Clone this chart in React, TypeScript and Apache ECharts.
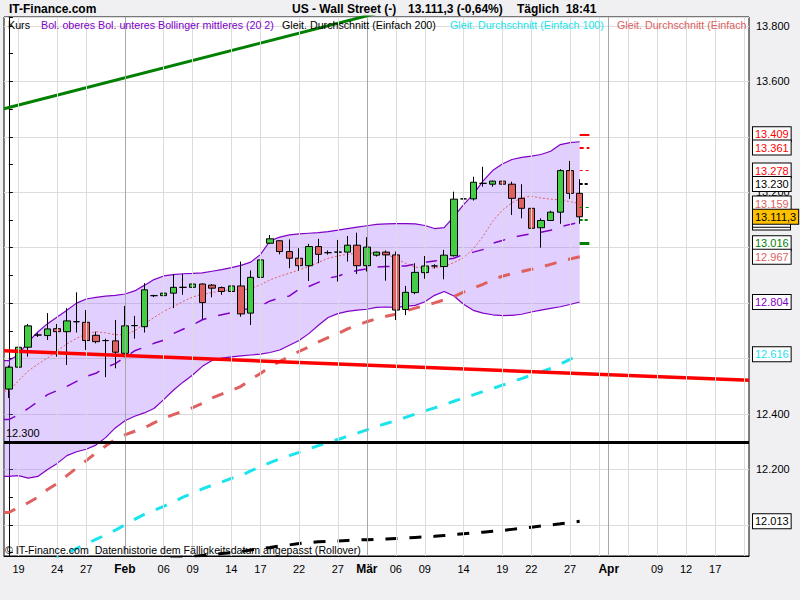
import React, { useEffect, useRef } from 'react';
import * as echarts from 'echarts';

const FONT = '"Liberation Sans", Arial, Helvetica, sans-serif';

// trading days (category axis), incl. future slots
const dates = [
  '2012-01-18', '2012-01-19', '2012-01-20', '2012-01-22', '2012-01-23', '2012-01-24', '2012-01-25', '2012-01-26',
  '2012-01-27', '2012-01-29', '2012-01-30', '2012-01-31', '2012-02-01', '2012-02-02', '2012-02-03', '2012-02-05',
  '2012-02-06', '2012-02-07', '2012-02-08', '2012-02-09', '2012-02-10', '2012-02-12', '2012-02-13', '2012-02-14',
  '2012-02-15', '2012-02-16', '2012-02-17', '2012-02-19', '2012-02-20', '2012-02-21', '2012-02-22', '2012-02-23',
  '2012-02-24', '2012-02-26', '2012-02-27', '2012-02-28', '2012-02-29', '2012-03-01', '2012-03-02', '2012-03-05',
  '2012-03-06', '2012-03-07', '2012-03-08', '2012-03-09', '2012-03-11', '2012-03-12', '2012-03-13', '2012-03-14',
  '2012-03-15', '2012-03-16', '2012-03-18', '2012-03-19', '2012-03-20', '2012-03-21', '2012-03-22', '2012-03-23',
  '2012-03-25', '2012-03-26', '2012-03-27', '2012-03-28', '2012-03-29', '2012-03-30', '2012-04-01', '2012-04-02',
  '2012-04-03', '2012-04-04', '2012-04-05', '2012-04-09', '2012-04-10', '2012-04-11', '2012-04-12', '2012-04-13',
  '2012-04-16', '2012-04-17', '2012-04-18', '2012-04-19', '2012-04-20',
];

// dates with a vertical grid line
const gridDates = [
  '2012-01-19', '2012-01-24', '2012-01-27', '2012-02-01', '2012-02-06', '2012-02-09', '2012-02-14', '2012-02-17',
  '2012-02-22', '2012-02-27', '2012-03-01', '2012-03-06', '2012-03-09', '2012-03-14', '2012-03-19', '2012-03-22',
  '2012-03-27', '2012-03-30', '2012-04-01', '2012-04-03', '2012-04-09', '2012-04-12', '2012-04-17', '2012-04-20',
];
// grid lines whose label is not drawn
const unlabelledDates = ['2012-03-30', '2012-04-03', '2012-04-20'];
const monthNames = ['Jan', 'Feb', 'Mär', 'Apr'];

// [open, close, low, high]
const candles: number[][] = [
  [12490, 12569, 12458, 12575], [12569, 12641, 12541, 12652], [12641, 12718, 12607, 12725], [12685, 12685, 12678, 12692],
  [12683, 12707, 12667, 12764], [12708, 12697, 12607, 12725], [12697, 12736, 12577, 12782], [12733, 12733, 12694, 12839],
  [12731, 12665, 12631, 12775], [12684, 12661, 12655, 12697], [12665, 12665, 12533, 12672], [12664, 12623, 12565, 12739],
  [12619, 12718, 12605, 12790], [12719, 12719, 12672, 12754], [12715, 12848, 12694, 12872], [12827, 12827, 12822, 12830],
  [12827, 12836, 12773, 12838], [12836, 12857, 12782, 12905], [12857, 12857, 12830, 12905], [12857, 12869, 12830, 12932],
  [12869, 12802, 12742, 12871], [12865, 12854, 12821, 12869], [12856, 12842, 12830, 12860], [12842, 12862, 12787, 12866],
  [12862, 12761, 12751, 12950], [12764, 12893, 12721, 12918], [12893, 12956, 12884, 12963], [13016, 13032, 13014, 13046],
  [13025, 12986, 12976, 13027], [12986, 12962, 12926, 13030], [12962, 12935, 12917, 12998], [12935, 13004, 12880, 13014],
  [13004, 12976, 12944, 13032], [12982, 12982, 12975, 12990], [12984, 12984, 12878, 13028], [12984, 13009, 12950, 13042],
  [13009, 12935, 12905, 13054], [12935, 13002, 12914, 13038], [12973, 12984, 12968, 12986], [12984, 12974, 12881, 12990],
  [12974, 12775, 12739, 12986], [12777, 12839, 12757, 12862], [12838, 12911, 12832, 12944], [12910, 12934, 12888, 12970],
  [12934, 12934, 12925, 12940], [12932, 12973, 12886, 12992], [12971, 13175, 12968, 13202], [13176, 13176, 13148, 13218],
  [13176, 13236, 13170, 13256], [13232, 13232, 13220, 13292], [13229, 13240, 13220, 13242], [13240, 13229, 13187, 13273],
  [13229, 13178, 13118, 13238], [13178, 13142, 13106, 13229], [13142, 13070, 13014, 13160], [13072, 13098, 13000, 13106],
  [13098, 13128, 13096, 13133], [13128, 13278, 13086, 13283], [13278, 13196, 13176, 13313], [13196, 13111.3, 13086, 13247],
];

const bbUpper = [
  12593, 12614, 12660, 12696, 12726, 12750, 12774, 12800, 12815, 12821, 12825, 12828, 12833, 12844, 12864, 12885,
  12898, 12903, 12906, 12907, 12909, 12915, 12921, 12928, 12936, 12948, 12975, 13025, 13038, 13046, 13050, 13052,
  13054, 13058, 13063, 13069, 13074, 13079, 13084, 13086, 13087, 13087, 13086, 13080, 13069, 13072, 13112, 13155,
  13192, 13240, 13278, 13302, 13318, 13326, 13330, 13336, 13348, 13372, 13379, 13382,
];
const bbLower = [
  12175, 12178, 12169, 12175, 12200, 12222, 12250, 12264, 12273, 12288, 12315, 12350, 12376, 12392, 12404, 12420,
  12452, 12486, 12515, 12541, 12572, 12593, 12602, 12606, 12610, 12613, 12616, 12622, 12631, 12648, 12665, 12690,
  12720, 12748, 12762, 12770, 12775, 12778, 12785, 12786, 12785, 12788, 12792, 12805, 12828, 12842, 12826, 12796,
  12774, 12764, 12758, 12755, 12756, 12760, 12768, 12775, 12781, 12787, 12795, 12804,
];
const bbMiddle = [
  12380, 12397, 12420, 12445, 12470, 12485, 12500, 12518, 12536, 12547, 12568, 12582, 12605, 12628, 12641, 12655,
  12666, 12690, 12706, 12721, 12740, 12750, 12758, 12766, 12774, 12782, 12790, 12808, 12819, 12826, 12850, 12860,
  12875, 12890, 12897, 12910, 12918, 12924, 12930, 12932, 12933, 12934, 12941, 12947, 12952, 12957, 12962, 12976,
  12984, 12993, 13016, 13026, 13036, 13044, 13050, 13056, 13063, 13075, 13084, 13091,
];
// thin dotted moving average
const maShort = [
  12483, 12520, 12555, 12580, 12602, 12628, 12653, 12673, 12689, 12697, 12693, 12686, 12687, 12700, 12725, 12748,
  12770, 12788, 12806, 12822, 12832, 12838, 12845, 12848, 12847, 12852, 12866, 12884, 12897, 12908, 12920, 12932,
  12947, 12962, 12970, 12976, 12980, 12981, 12980, 12978, 12960, 12944, 12930, 12926, 12927, 12933, 12946, 12964,
  12996, 13040, 13095, 13135, 13162, 13180, 13186, 13179, 13175, 13172, 13166, 13159,
];
const ma50 = [
  12045, 12063, 12080, 12100, 12128, 12150, 12178, 12205, 12232, 12260, 12285, 12308, 12325, 12338, 12350, 12368,
  12384, 12398, 12410, 12423, 12438, 12458, 12472, 12485, 12500, 12525, 12546, 12570, 12590, 12608, 12626, 12642,
  12660, 12676, 12690, 12707, 12720, 12733, 12744, 12753, 12760, 12772, 12782, 12792, 12801, 12812, 12824, 12840,
  12854, 12868, 12884, 12897, 12906, 12914, 12922, 12930, 12940, 12950, 12959, 12967,
];
const ma100 = [
  11800, 11816, 11832, 11848, 11864, 11881, 11898, 11915, 11932, 11948, 11964, 11981, 12000, 12020, 12038, 12052,
  12067, 12083, 12100, 12114, 12130, 12143, 12155, 12168, 12178, 12195, 12210, 12225, 12238, 12250, 12262, 12274,
  12286, 12297, 12308, 12320, 12331, 12343, 12355, 12366, 12376, 12388, 12400, 12411, 12422, 12434, 12446, 12458,
  12469, 12481, 12492, 12504, 12516, 12528, 12540, 12552, 12565, 12580, 12597, 12616,
];
const ma200 = [
  11800, 11805, 11810, 11815, 11820, 11825, 11830, 11835, 11840, 11845, 11850, 11855, 11860, 11865, 11869, 11873,
  11877, 11881, 11884, 11887, 11890, 11893, 11897, 11900, 11904, 11910, 11915, 11919, 11924, 11928, 11933, 11936,
  11939, 11941, 11942, 11944, 11946, 11947, 11948, 11949, 11951, 11953, 11955, 11957, 11959, 11962, 11965, 11968,
  11971, 11974, 11977, 11980, 11984, 11988, 11992, 11996, 12000, 12004, 12009, 12013,
];

// pivot levels: R3, R2, R1, P, S1, S2, S3
const pivotLevels = [13409, 13361, 13278, 13230, 13147, 13101, 13016];
// trend lines: [x index, value] anchor pairs
const trendGreen = [[-0.5, 13501], [40, 13863]];
const trendRed = [[-0.5, 12628], [76.5, 12522]];
const supportLevel = 12300;
const yLabelValues = [13800, 13600, 13200, 12400, 12200];

const PURPLE = '#8000c8';
const SALMON = '#e06060';
const CYAN = '#1ae4ec';
const GREEN = '#008000';
const RED = '#ff0000';

function fmtDE(v: number): string {
  const dec = Number.isInteger(v) ? 0 : 1;
  const [ip, dp] = v.toFixed(dec).split('.');
  const withSep = ip.replace(/\B(?=(\d{3})+(?!\d))/g, '.');
  return dp ? `${withSep},${dp}` : withSep;
}
const last = (a: number[]) => a[a.length - 1];
const xy = (arr: number[]) => [[-0.5, arr[0]], ...arr.map((v, i) => [i, v])];

export default function App() {
  const ref = useRef<HTMLDivElement>(null);
  useEffect(() => {
    if (!ref.current) return;
    const chart = echarts.init(ref.current, null, { renderer: 'svg', width: 800, height: 600 });

    const gridIdx = gridDates.map((d) => dates.indexOf(d));
    const hiddenIdx = new Set(unlabelledDates.map((d) => dates.indexOf(d)));
    const labelIdx = new Set(gridIdx.filter((i) => !hiddenIdx.has(i)));
    const isMonthStart = (i: number) => i > 0 && dates[i].slice(5, 7) !== dates[i - 1].slice(5, 7);
    const labelText = (i: number) =>
      isMonthStart(i) ? `{m|${monthNames[Number(dates[i].slice(5, 7)) - 1]}}` : dates[i].slice(8, 10);

    const upperXY = xy(bbUpper);
    const lowerXY = xy(bbLower);
    const lastIdx = candles.length - 1;
    const lastClose = candles[lastIdx][1];

    const pivotStyles = [
      { color: RED, width: 2, type: 'solid' },
      { color: RED, width: 2, type: [4, 3] },
      { color: RED, width: 1, type: [3, 3] },
      { color: '#000', width: 2, type: [3, 2] },
      { color: GREEN, width: 1, type: [3, 3] },
      { color: GREEN, width: 2, type: [3, 2] },
      { color: GREEN, width: 3, type: 'solid' },
    ];

    // boxes drawn first are covered by later ones (hidden: no visible text)
    const boxSpecs: { v: number; color: string; bg?: string; hidden?: boolean }[] = [
      { v: last(bbUpper), color: PURPLE, hidden: true },
      { v: pivotLevels[4], color: GREEN, hidden: true },
      { v: last(bbMiddle), color: PURPLE, hidden: true },
      { v: pivotLevels[5], color: GREEN, hidden: true },
      { v: pivotLevels[0], color: RED },
      { v: pivotLevels[1], color: RED },
      { v: pivotLevels[2], color: RED },
      { v: pivotLevels[3], color: '#000' },
      { v: last(maShort), color: SALMON },
      { v: lastClose, color: '#000', bg: '#ffc000' },
      { v: pivotLevels[6], color: GREEN },
      { v: last(ma50), color: SALMON },
      { v: last(bbLower), color: PURPLE },
      { v: last(ma100), color: CYAN },
      { v: last(ma200), color: '#000' },
    ];

    const lineSeries = (data: number[][], color: string, width: number, type: any, z = 2, name = '') => ({
      type: 'line', name, xAxisIndex: 1, yAxisIndex: 0, data, symbol: 'none', clip: true, z, silent: true,
      lineStyle: { color, width, type }, emphasis: { disabled: true },
    });

    const LEG = `10.7px ${FONT}`;
    const option: any = {
      animation: false,
      backgroundColor: '#f0f0f3',
      grid: {
        left: 4, right: 51, top: 17, bottom: 44, show: true, backgroundColor: '#ffffff',
        borderColor: '#000000', borderWidth: 1, containLabel: false,
      },
      xAxis: [
        {
          type: 'category', data: dates, boundaryGap: true, position: 'bottom',
          axisLine: { show: true, lineStyle: { color: '#000' } },
          axisTick: { show: false }, splitLine: { show: false },
          axisLabel: {
            interval: (i: number) => labelIdx.has(i),
            formatter: (_v: string, i: number) => labelText(i),
            margin: 7, fontSize: 11, fontFamily: FONT, color: '#000',
            rich: { m: { fontWeight: 'bold', fontSize: 12, fontFamily: FONT, color: '#000' } },
          },
        },
        { type: 'value', min: -0.5, max: 76.5, show: false },
      ],
      yAxis: [
        {
          type: 'value', position: 'right', min: 11888, max: 13832, minInterval: 100, maxInterval: 100, splitNumber: 19,
          axisLine: { show: true, lineStyle: { color: '#000' } },
          axisTick: { show: true, length: 4, lineStyle: { color: '#000' } },
          axisLabel: {
            margin: 7, fontSize: 11, fontFamily: FONT, color: '#000',
            formatter: (v: number) => (yLabelValues.includes(Math.round(v)) ? fmtDE(Math.round(v)) : ''),
          },
          splitLine: { show: false },
        },
        {
          type: 'value', position: 'right', min: 11888, max: 13832, minInterval: 200, maxInterval: 200, splitNumber: 10,
          axisLine: { show: false }, axisTick: { show: false }, axisLabel: { show: false },
          splitLine: { show: true, lineStyle: { color: '#dcdcdc', width: 1 } },
        },
      ],
      graphic: [
        { type: 'text', x: 9, y: 9, z: 100, style: { text: 'IT-Finance.com', font: `bold 12px ${FONT}`, fill: '#000', verticalAlign: 'middle' } },
        { type: 'text', x: 292, y: 9, z: 100, style: { text: 'US - Wall Street (-)', font: `bold 12px ${FONT}`, fill: '#000', verticalAlign: 'middle' } },
        { type: 'text', x: 408, y: 9, z: 100, style: { text: '13.111,3 (-0,64%)', font: `bold 12px ${FONT}`, fill: '#000', verticalAlign: 'middle' } },
        { type: 'text', x: 517, y: 9, z: 100, style: { text: 'Täglich  18:41', font: `bold 12px ${FONT}`, fill: '#000', verticalAlign: 'middle', whiteSpace: 'pre' } },
        { type: 'text', x: 8, y: 25, z: 100, style: { text: 'Kurs', font: LEG, fill: '#000', verticalAlign: 'middle' } },
        { type: 'text', x: 41, y: 25, z: 100, style: { text: 'Bol. oberes Bol. unteres Bollinger mittleres (20 2)', font: LEG, fill: PURPLE, verticalAlign: 'middle' } },
        { type: 'text', x: 282, y: 25, z: 100, style: { text: 'Gleit. Durchschnitt (Einfach 200)', font: LEG, fill: '#000', verticalAlign: 'middle' } },
        { type: 'text', x: 450, y: 25, z: 100, style: { text: 'Gleit. Durchschnitt (Einfach 100)', font: LEG, fill: CYAN, verticalAlign: 'middle' } },
        { type: 'text', x: 617, y: 25, z: 100, style: { text: 'Gleit. Durchschnitt (Einfach 50)', font: LEG, fill: SALMON, verticalAlign: 'middle', width: 131, overflow: 'truncate', ellipsis: '' } },
        { type: 'text', x: 5, y: 550, z: 100, style: { text: '© IT-Finance.com  Datenhistorie dem Fälligkeitsdatum angepasst (Rollover)', font: `10.6px ${FONT}`, fill: '#000', verticalAlign: 'middle', whiteSpace: 'pre' } },
      ],
      series: [
        {
          type: 'line', name: 'grid', xAxisIndex: 1, yAxisIndex: 0, data: [], z: 1, silent: true,
          markLine: {
            silent: true, symbol: ['none', 'none'], animation: false, label: { show: false },
            data: gridIdx.map((i) => ({
              xAxis: i,
              lineStyle: { color: isMonthStart(i) ? '#a8a8a8' : '#dcdcdc', width: 1, type: 'solid' },
            })),
          },
        },
        {
          type: 'custom', name: 'band', xAxisIndex: 1, yAxisIndex: 0, data: [[0, 13000]], z: 1, silent: true,
          renderItem: (_p: any, api: any) => {
            const pts = [...upperXY.map((p) => api.coord(p)), ...lowerXY.slice().reverse().map((p) => api.coord(p))];
            return { type: 'polygon', shape: { points: pts }, style: { fill: 'rgba(160,110,255,0.33)' } };
          },
        },
        lineSeries(upperXY, PURPLE, 1.2, 'solid', 2, 'bbUpper'),
        lineSeries(lowerXY, PURPLE, 1.2, 'solid', 2, 'bbLower'),
        lineSeries(xy(bbMiddle), PURPLE, 1.5, [12, 12], 2, 'bbMiddle'),
        lineSeries(xy(maShort), SALMON, 1, [2, 2], 2, 'maShort'),
        lineSeries(xy(ma50), SALMON, 3, [12, 12], 2, 'ma50'),
        lineSeries(xy(ma100), CYAN, 3, [12, 12], 2, 'ma100'),
        lineSeries(xy(ma200), '#000', 3, [12, 12], 2, 'ma200'),
        {
          type: 'candlestick', name: 'Kurs', xAxisIndex: 0, yAxisIndex: 0, data: candles, barWidth: 7, z: 3, silent: true,
          itemStyle: {
            color: '#44cc44', color0: '#e06060', borderColor: '#000', borderColor0: '#000', borderColorDoji: '#000', borderWidth: 1,
          },
        },
        lineSeries(trendGreen, '#008000', 3, 'solid', 4, 'trendGreen'),
        lineSeries(trendRed, RED, 3.5, 'solid', 4, 'trendRed'),
        {
          type: 'line', name: 'support', xAxisIndex: 1, yAxisIndex: 0, data: [], z: 4, silent: true,
          markLine: {
            silent: true, symbol: ['none', 'none'], animation: false,
            data: [{
              yAxis: supportLevel,
              lineStyle: { color: '#000', width: 3, type: 'solid' },
              label: { show: true, position: 'insideStartTop', formatter: fmtDE(supportLevel), color: '#000', fontSize: 11, fontFamily: FONT, distance: [2, 3] },
            }],
          },
        },
        {
          type: 'line', name: 'pivots', xAxisIndex: 1, yAxisIndex: 0, data: [], z: 4, silent: true,
          markLine: {
            silent: true, symbol: ['none', 'none'], animation: false, label: { show: false },
            data: pivotLevels.map((v, k) => [
              { coord: [lastIdx, v], lineStyle: pivotStyles[k] },
              { coord: [lastIdx + 1, v] },
            ]),
          },
        },
        {
          type: 'line', name: 'boxes', xAxisIndex: 1, yAxisIndex: 0, data: [], z: 5, silent: true,
          markLine: {
            silent: true, symbol: ['none', 'none'], animation: false,
            data: boxSpecs.map((b) => ({
              yAxis: b.v,
              lineStyle: { color: 'rgba(0,0,0,0)', width: 0 },
              label: b.hidden
                ? {
                  show: true, position: 'end', distance: 4, formatter: '\u00a0', width: 33, height: 13,
                  backgroundColor: '#ffffff', borderColor: '#000', borderWidth: 1, padding: [1, 2, 0, 2],
                  fontSize: 11, fontFamily: FONT, lineHeight: 13,
                }
                : {
                  show: true, position: 'end', distance: 4, formatter: fmtDE(b.v), color: b.color,
                  backgroundColor: b.bg || '#ffffff', borderColor: '#000', borderWidth: 1, padding: [1, 2, 0, 2],
                  fontSize: 11, fontFamily: FONT, lineHeight: 13,
                },
            })),
          },
        },
      ],
    };
    chart.setOption(option);
    return () => chart.dispose();
  }, []);
  return <div ref={ref} style={{ position: 'fixed', left: 0, top: 0, width: 800, height: 600 }} />;
}
